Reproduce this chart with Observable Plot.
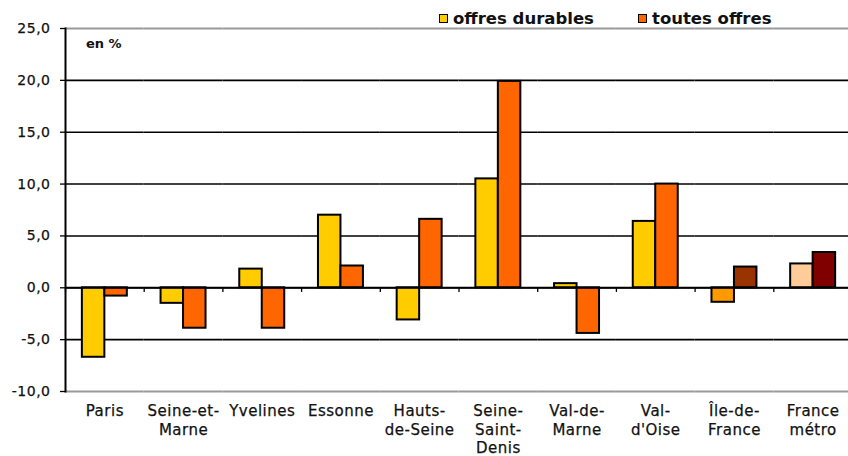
<!DOCTYPE html>
<html>
<head>
<meta charset="utf-8">
<script src="https://cdn.jsdelivr.net/npm/d3@7"></script>
<script src="https://cdn.jsdelivr.net/npm/@observablehq/plot@0.6"></script>
<style>
  html, body { margin: 0; padding: 0; background: #fff; overflow: hidden; }
  #wrap { position: relative; width: 848px; height: 456px; font-family: "DejaVu Sans", sans-serif; }
  .leg { position: absolute; top: 9px; display: flex; align-items: center; font-weight: bold; font-size: 16.5px; color: #111; }
  .sw { width: 7px; height: 7px; border: 1.6px solid #000; margin-right: 5px; }
  #unit { position: absolute; left: 86px; top: 36px; font-size: 13px; font-weight: bold; color: #111; }
  svg text { stroke: #111; stroke-width: 0.25px; }
</style>
</head>
<body>
<div id="wrap"></div>
<script>
const categories = ["Paris","Seine-et-Marne","Yvelines","Essonne","Hauts-de-Seine","Seine-Saint-Denis","Val-de-Marne","Val-d'Oise","Île-de-France","France métro"];
const tickLabels = ["Paris","Seine-et-\nMarne","Yvelines","Essonne","Hauts-\nde-Seine","Seine-\nSaint-\nDenis","Val-de-\nMarne","Val-\nd'Oise","Île-de-\nFrance","France\nmétro"];
const seriesNames = ["offres durables","toutes offres"];
const durables = [-6.7,-1.5,1.8,7.0,-3.1,10.5,0.4,6.4,-1.4,2.3];
const toutes = [-0.8,-3.9,-3.9,2.1,6.6,19.9,-4.4,10.0,2.0,3.4];
const durablesColors = ["#FFCC00","#FFCC00","#FFCC00","#FFCC00","#FFCC00","#FFCC00","#FFCC00","#FFCC00","#FF9900","#FFCC99"];
const toutesColors = ["#FF6600","#FF6600","#FF6600","#FF6600","#FF6600","#FF6600","#FF6600","#FF6600","#993300","#800000"];
const legendColors = ["#FFCC00","#FF6600"];
const yTicks = [-10,-5,0,5,10,15,20,25];
const gridValues = [-5,0,5,10,15,20];
const frameValues = [-10,25];

const rows = [];
categories.forEach((c, i) => {
  rows.push({cat: c, series: seriesNames[0], value: durables[i], color: durablesColors[i]});
  rows.push({cat: c, series: seriesNames[1], value: toutes[i], color: toutesColors[i]});
});
const labelOf = new Map(categories.map((c, i) => [c, tickLabels[i]]));

const W = 848, mL = 65, mR = -4;
const step = (W - mL - mR) / categories.length;
const xPadOuter = 0.75;
const xBand = step / (2 + 2 * xPadOuter);
const edgeOffset = xBand * xPadOuter + xBand / 2;

const chart = Plot.plot({
  width: W,
  height: 456,
  marginTop: 28,
  marginBottom: 65,
  marginLeft: mL,
  marginRight: mR,
  style: {fontFamily: "DejaVu Sans, sans-serif", color: "#111", background: "transparent"},
  fx: {domain: categories, padding: 0, round: false, label: null},
  x: {domain: seriesNames, paddingInner: 0, paddingOuter: xPadOuter, round: false, axis: null},
  y: {domain: [-10, 25], label: null},
  marks: [
    Plot.ruleY(gridValues, {stroke: "#000", strokeWidth: 1.6}),
    Plot.ruleY(frameValues, {stroke: "#999", strokeWidth: 2}),
    Plot.ruleX([seriesNames[0]], {x: d => d, dx: -edgeOffset, y1: 0, y2: -0.45, stroke: "#000", strokeWidth: 1.3}),
    Plot.barY(rows, {fx: "cat", x: "series", y: "value", fill: "color", stroke: "#000", strokeWidth: 2, insetLeft: 0, insetRight: 0}),
    Plot.ruleY([0], {stroke: "#000", strokeWidth: 2}),
    Plot.frame({anchor: "left", facetAnchor: "left", stroke: "#000", strokeWidth: 2}),
    Plot.axisY({ticks: yTicks, tickSize: 5, tickPadding: 10, tickFormat: d => d3.format(".1f")(d).replace(".", ",").replace("−", "-"), fontSize: 14, label: null, stroke: "#000", strokeWidth: 1.3}),
    Plot.axisFx({anchor: "bottom", tickSize: 0, tickPadding: 11, fontSize: 15, lineHeight: 1.25, label: null, tickFormat: d => labelOf.get(d)})
  ]
});
chart.setAttribute("letter-spacing", "0.5");
const wrap = document.getElementById("wrap");
wrap.appendChild(chart);

const legPos = [439, 638];
seriesNames.forEach((s, i) => {
  const d = document.createElement("div");
  d.className = "leg";
  d.style.left = legPos[i] + "px";
  const sw = document.createElement("span");
  sw.className = "sw";
  sw.style.background = legendColors[i];
  d.appendChild(sw);
  d.appendChild(document.createTextNode(s));
  wrap.appendChild(d);
});
const u = document.createElement("div");
u.id = "unit";
u.textContent = "en %";
wrap.appendChild(u);
</script>
</body>
</html>
